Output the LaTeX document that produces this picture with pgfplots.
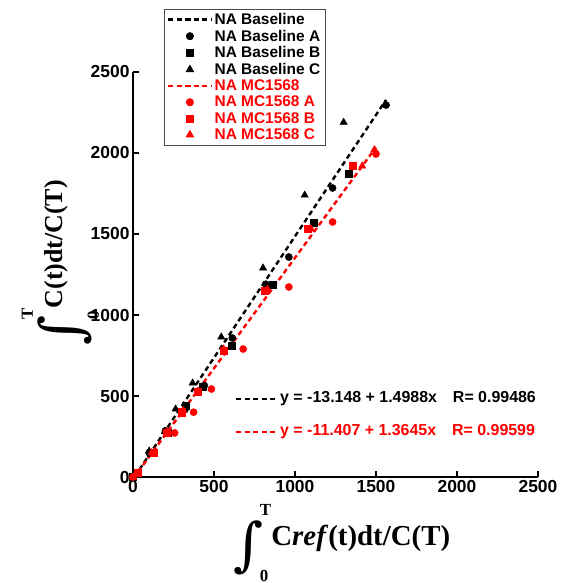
\documentclass[border=0pt]{standalone}
\usepackage{pgfplots}
\pgfplotsset{compat=1.18}
\usepackage{fontspec}
\setmainfont{Liberation Sans}
\newfontfamily\intfont{DejaVu Serif}
\newfontfamily\lblfont{Liberation Serif}
\newcommand\bigint{\mbox{\intfont\fontsize{58}{58}\selectfont\raisebox{-19bp}{∫}}\kern-4bp\mbox{\rlap{\raisebox{30bp}{\lblfont\bfseries\fontsize{17}{17}\selectfont T}}\raisebox{-36bp}{\lblfont\bfseries\fontsize{17}{17}\selectfont 0}}\kern3bp}
\pgfplotsset{legend image code/.code={\draw[mark repeat=2,mark phase=2,#1] plot coordinates {(0cm,0cm) (0.76cm,0cm) (1.52cm,0cm)};}}
\begin{document}
\begin{tikzpicture}
\useasboundingbox (-133bp,-106bp) rectangle (430bp,477bp);
\begin{axis}[
 width=405bp, height=405bp, scale only axis,
 xmin=0,xmax=2500,ymin=0,ymax=2500,
 xtick={0,500,1000,1500,2000,2500}, ytick={0,500,1000,1500,2000,2500},
 axis x line=bottom, axis y line=left,
 axis line style={-, line width=1.6bp},
 tick style={line width=1.2bp, black},
 major tick length=6bp, tick align=inside,
 /pgf/number format/assume math mode=true,
 /pgf/number format/1000 sep={},
 tick label style={font=\bfseries\fontsize{17.5}{19}\selectfont},
 legend style={at={(0.076,1.156)}, anchor=north west,
   font=\bfseries\fontsize{15.5}{17}\selectfont,
   draw=black!70, line width=0.8bp},
 legend cell align=left,
 clip=false,
]
\addplot[black, line width=2.4bp, dash pattern=on 5bp off 3.5bp]
  coordinates {(10,1.84) (1562,2328.0)};
\addlegendentry{NA Baseline}
\addplot[only marks, mark=*, mark size=3.6bp, black]
  coordinates {(0,0) (100,150) (200,285) (320,415) (440,565) (613,858) (820,1190) (962,1358) (1232,1784) (1562,2296)};
\addlegendentry{NA Baseline A}
\addplot[only marks, mark=square*, mark size=3.6bp, black]
  coordinates {(0,0) (110,150) (215,275) (325,440) (429,556) (607,809) (864,1185) (1115,1568) (1330,1870)};
\addlegendentry{NA Baseline B}
\addplot[only marks, mark=triangle*, mark size=4.2bp, black]
  coordinates {(0,0) (100,160) (196,280) (263,420) (368,580) (545,864) (803,1290) (1060,1740) (1300,2190)};
\addlegendentry{NA Baseline C}
\addplot[red, line width=2.4bp, dash pattern=on 5bp off 3.5bp]
  coordinates {(0,-11.4) (1500,2035.3)};
\addlegendentry{\textcolor{red}{NA MC1568}}
\addplot[only marks, mark=*, mark size=3.6bp, red]
  coordinates {(0,0) (123,148) (257,272) (374,400) (484,543) (680,790) (962,1173) (1232,1574) (1500,1994)};
\addlegendentry{\textcolor{red}{NA MC1568 A}}
\addplot[only marks, mark=square*, mark size=3.6bp, red]
  coordinates {(31,25) (130,150) (208,272) (300,400) (398,525) (558,778) (815,1148) (1078,1531) (1354,1920)};
\addlegendentry{\textcolor{red}{NA MC1568 B}}
\addplot[only marks, mark=triangle*, mark size=4.2bp, red]
  coordinates {(0,0) (115,150) (210,280) (310,410) (400,530) (560,790) (830,1160) (1100,1531) (1415,1920) (1490,2020)};
\addlegendentry{\textcolor{red}{NA MC1568 C}}
\end{axis}
\draw[black, line width=2.4bp, dash pattern=on 5bp off 3.5bp] (103bp,78bp) -- (144bp,78bp);
\draw[red, line width=2.4bp, dash pattern=on 5bp off 3.5bp] (103bp,45bp) -- (144bp,45bp);
\node[anchor=west, inner sep=0pt, font=\bfseries\fontsize{16}{18}\selectfont] at (147bp,78bp) {y = -13.148 + 1.4988x\quad R= 0.99486};
\node[anchor=west, inner sep=0pt, text=red, font=\bfseries\fontsize{16}{18}\selectfont] at (147bp,45bp) {y = -11.407 + 1.3645x\quad R= 0.99599};
\node[anchor=base, inner sep=0pt] at (209bp,-68bp) {\bigint{\lblfont\bfseries\fontsize{29}{31}\selectfont C\textit{ref}(t)dt/C(T)}};
\node[rotate=90, anchor=base, inner sep=0pt] at (-70bp,214bp) {\bigint{\lblfont\bfseries\fontsize{26}{28}\selectfont C(t)dt/C(T)}};
\end{tikzpicture}
\end{document}
